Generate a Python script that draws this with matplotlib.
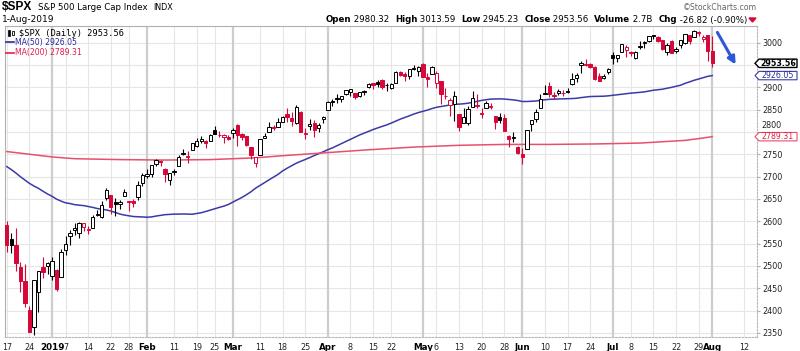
import numpy as np
import pandas as pd
import matplotlib
matplotlib.use("Agg")
import matplotlib.pyplot as plt
from matplotlib.patches import Polygon, Rectangle, FancyArrowPatch
from matplotlib.lines import Line2D
from matplotlib.transforms import blended_transform_factory

W, H = 800, 351

# ---------------- data ----------------
holidays = ['2018-12-25', '2019-01-01', '2019-01-21', '2019-02-18',
            '2019-04-19', '2019-05-27', '2019-07-04']

opens = [
    # Dec 2018
    2590.75, 2559.90, 2547.05, 2496.77, 2465.38, 2400.56, 2363.12, 2442.50, 2498.77, 2498.94,
    # Jan
    2476.96, 2491.92, 2474.33, 2535.61, 2568.11, 2580.00, 2573.51, 2588.11, 2580.31, 2585.10, 2614.75,
    2609.28, 2651.27, 2657.88, 2643.48, 2638.84, 2657.44, 2644.97, 2644.89, 2653.62, 2685.49,
    # Feb
    2702.32, 2706.49, 2728.34, 2735.05, 2717.53, 2692.36, 2712.40, 2722.61, 2750.30, 2743.50,
    2760.24, 2769.28, 2779.05, 2780.24, 2780.67, 2804.35, 2792.36, 2787.50, 2788.11,
    # Mar
    2798.22, 2814.37, 2794.41, 2790.27, 2766.53, 2730.79, 2747.61, 2787.34, 2799.78, 2810.38, 2810.79,
    2822.61, 2840.76, 2831.34, 2819.72, 2844.52, 2796.01, 2812.66, 2819.72, 2809.40, 2828.27,
    # Apr
    2848.63, 2868.24, 2876.09, 2873.99, 2884.16, 2888.46, 2886.58, 2881.37, 2891.92, 2900.86, 2908.32,
    2912.26, 2916.04, 2904.81, 2898.78, 2909.99, 2934.00, 2928.99, 2925.81, 2940.58, 2937.14,
    # May
    2952.33, 2922.16, 2929.21, 2908.89, 2913.03, 2879.61, 2859.84, 2863.10, 2840.19, 2820.12, 2820.38,
    2855.80, 2858.60, 2841.94, 2854.02, 2856.06, 2836.70, 2832.41, 2830.03, 2790.25, 2786.94, 2766.15,
    # Jun
    2751.53, 2762.64, 2818.09, 2828.51, 2852.87, 2885.83, 2903.27, 2882.73, 2886.24, 2886.82,
    2889.75, 2906.71, 2920.55, 2949.60, 2952.71, 2951.42, 2945.78, 2926.07, 2919.66, 2932.94,
    # Jul
    2971.41, 2964.66, 2978.08, 2984.25, 2979.77, 2965.52, 2989.30, 2999.62, 3003.36, 3017.80, 3012.13,
    3005.10, 2978.87, 3004.26, 2981.93, 2994.74, 2998.77, 3016.26, 3013.25, 3024.47, 3007.66, 3016.22,
    # Aug
    2980.32,
]
highs = [
    2601.13, 2573.99, 2585.29, 2509.63, 2504.41, 2410.34, 2467.76, 2489.10, 2520.27, 2509.24,
    2519.49, 2493.14, 2538.07, 2566.16, 2579.82, 2595.32, 2597.82, 2596.27, 2589.32, 2613.08, 2625.76,
    2645.06, 2675.47, 2657.88, 2653.19, 2647.20, 2672.38, 2644.97, 2650.93, 2690.44, 2708.95,
    2716.66, 2724.99, 2738.98, 2738.08, 2719.32, 2708.07, 2718.05, 2748.19, 2761.85, 2757.90,
    2775.66, 2787.33, 2789.88, 2781.58, 2794.20, 2813.49, 2803.12, 2795.76, 2793.73,
    2808.02, 2816.88, 2796.44, 2790.27, 2767.25, 2744.13, 2784.00, 2798.32, 2821.24, 2815.00, 2830.73,
    2835.41, 2852.42, 2843.54, 2860.31, 2846.16, 2809.79, 2829.87, 2825.56, 2819.71, 2836.03,
    2869.40, 2872.90, 2885.25, 2881.28, 2893.24, 2895.95, 2886.88, 2889.71, 2893.42, 2910.54, 2909.60,
    2916.06, 2918.00, 2908.40, 2909.51, 2936.31, 2936.83, 2933.10, 2939.88, 2949.52, 2948.22,
    2954.13, 2931.68, 2947.85, 2937.32, 2913.03, 2897.96, 2875.97, 2891.31, 2840.19, 2852.54, 2858.68,
    2892.15, 2885.48, 2853.86, 2868.88, 2865.47, 2836.70, 2841.36, 2840.51, 2792.03, 2799.00, 2768.98,
    2763.07, 2804.49, 2827.28, 2852.10, 2884.97, 2904.77, 2910.61, 2888.57, 2895.24, 2894.45,
    2897.27, 2930.79, 2931.74, 2958.06, 2964.15, 2954.92, 2946.52, 2932.59, 2929.30, 2943.98,
    2977.93, 2973.21, 2995.84, 2994.03, 2980.76, 2981.90, 3002.98, 3002.33, 3013.92, 3017.80, 3015.02,
    3005.26, 2998.28, 3006.02, 2990.71, 3005.90, 3019.59, 3016.31, 3027.98, 3025.61, 3017.19, 3017.40,
    3013.59,
]
lows = [
    2530.54, 2528.71, 2488.96, 2441.53, 2408.55, 2351.10, 2346.58, 2397.94, 2472.89, 2482.82,
    2467.47, 2443.96, 2474.33, 2524.56, 2547.56, 2568.89, 2562.02, 2577.40, 2570.41, 2585.10, 2612.68,
    2606.36, 2647.58, 2617.27, 2612.86, 2627.01, 2657.33, 2624.06, 2631.05, 2648.34, 2678.65,
    2696.88, 2698.75, 2724.03, 2724.15, 2687.26, 2681.83, 2703.79, 2722.61, 2748.63, 2731.23,
    2760.24, 2767.29, 2774.06, 2764.55, 2779.11, 2794.99, 2789.47, 2775.13, 2782.51,
    2787.38, 2767.66, 2782.97, 2768.69, 2739.09, 2722.27, 2747.61, 2786.73, 2799.78, 2803.46, 2810.79,
    2821.99, 2823.27, 2812.43, 2817.38, 2800.47, 2785.02, 2803.99, 2787.72, 2798.77, 2819.23,
    2848.63, 2858.75, 2865.17, 2867.14, 2882.99, 2880.78, 2873.33, 2879.13, 2881.99, 2898.37, 2896.48,
    2900.71, 2895.45, 2891.90, 2896.35, 2908.53, 2926.05, 2912.84, 2917.56, 2939.35, 2924.11,
    2923.36, 2900.50, 2929.21, 2898.21, 2862.60, 2873.28, 2836.40, 2825.39, 2801.43, 2820.12, 2815.08,
    2855.80, 2854.23, 2831.29, 2854.02, 2851.11, 2805.49, 2820.19, 2801.58, 2766.06, 2776.74, 2750.52,
    2728.81, 2762.64, 2800.92, 2822.45, 2852.87, 2885.51, 2878.53, 2874.68, 2881.99, 2879.62,
    2887.30, 2905.44, 2911.43, 2931.50, 2946.87, 2944.05, 2916.01, 2912.99, 2918.57, 2929.05,
    2952.22, 2955.92, 2977.96, 2967.97, 2970.09, 2963.44, 2984.62, 2988.80, 3001.87, 3008.77, 3001.15,
    2984.25, 2973.09, 2975.86, 2976.65, 2988.56, 2996.82, 2997.24, 3012.59, 3014.30, 3000.94, 2958.08,
    2945.23,
]
closes = [
    2545.94, 2546.16, 2506.96, 2467.42, 2416.62, 2351.10, 2467.70, 2488.83, 2485.74, 2506.85,
    2510.03, 2447.89, 2531.94, 2549.69, 2574.41, 2584.96, 2596.64, 2596.26, 2582.61, 2610.30, 2616.10,
    2635.96, 2670.71, 2632.90, 2638.70, 2642.33, 2664.76, 2643.85, 2640.00, 2681.05, 2704.10,
    2706.53, 2724.87, 2737.70, 2731.61, 2706.05, 2707.88, 2709.80, 2744.73, 2753.03, 2745.73,
    2775.60, 2779.76, 2784.70, 2774.88, 2792.67, 2796.11, 2793.90, 2792.38, 2784.49,
    2803.69, 2792.81, 2789.65, 2771.45, 2748.93, 2743.07, 2783.30, 2791.52, 2810.92, 2808.48, 2822.48,
    2832.94, 2832.57, 2824.23, 2854.88, 2800.71, 2798.36, 2818.46, 2805.37, 2815.44, 2834.40,
    2867.19, 2867.24, 2873.40, 2879.39, 2892.74, 2895.77, 2878.20, 2888.21, 2888.32, 2907.41, 2905.58,
    2907.06, 2900.45, 2905.03, 2907.97, 2933.68, 2927.25, 2926.17, 2939.88, 2943.03, 2945.83,
    2923.73, 2917.52, 2945.64, 2932.47, 2884.05, 2879.42, 2870.72, 2881.40, 2811.87, 2834.41, 2850.96,
    2876.32, 2859.53, 2840.23, 2864.36, 2856.27, 2822.24, 2826.06, 2802.39, 2783.02, 2788.86, 2752.06,
    2744.45, 2803.27, 2826.15, 2843.49, 2873.34, 2886.73, 2885.72, 2879.84, 2891.64, 2886.98,
    2889.67, 2917.75, 2926.46, 2954.18, 2950.46, 2945.35, 2917.38, 2913.78, 2924.92, 2941.76,
    2964.33, 2973.01, 2995.82, 2990.41, 2975.95, 2979.63, 2993.07, 2999.91, 3013.77, 3014.30, 3004.04,
    2984.42, 2995.11, 2976.61, 2985.03, 3005.47, 3019.56, 3003.67, 3025.86, 3020.97, 3013.18, 2980.38,
    2953.56,
]

# closes before the visible window (needed for the 50-day average and first candle colour)
prior_closes = [
    2885.57, 2884.43, 2880.34, 2785.68, 2728.37, 2767.13, 2750.79, 2809.92, 2809.21, 2768.78,
    2767.78, 2755.88, 2740.69, 2656.10, 2705.57, 2658.69, 2641.25, 2682.63, 2711.74,
    2740.37, 2723.06, 2738.31, 2755.45, 2813.89, 2806.83, 2781.01, 2726.22, 2722.18, 2701.58,
    2730.20, 2736.27, 2690.73, 2641.89, 2649.93, 2632.56, 2673.45, 2682.17, 2743.79, 2737.80, 2760.17,
    2790.37, 2700.06, 2695.95, 2633.08, 2637.72, 2636.78, 2651.07, 2650.54, 2599.95,
]

# 200-day moving average
ma200_dates = ['2018-12-17', '2018-12-24', '2019-01-02', '2019-01-09', '2019-01-24', '2019-02-07',
               '2019-02-22', '2019-03-08', '2019-03-15', '2019-03-29', '2019-04-12', '2019-04-29',
               '2019-05-13', '2019-05-28', '2019-06-11', '2019-06-25', '2019-07-10', '2019-07-17',
               '2019-07-24', '2019-07-29', '2019-08-01']
ma200_vals = [2756, 2750, 2744, 2740, 2738, 2737, 2738, 2742, 2746, 2753, 2760, 2766,
              2770, 2772, 2772, 2773, 2775, 2778, 2781, 2785, 2789.31]

tick_dates = ['2018-12-17', '2018-12-24', '2019-01-02', '2019-01-07', '2019-01-14', '2019-01-22',
              '2019-01-28', '2019-02-01', '2019-02-11', '2019-02-19', '2019-02-25', '2019-03-01',
              '2019-03-11', '2019-03-18', '2019-03-25', '2019-04-01', '2019-04-08', '2019-04-15',
              '2019-04-22', '2019-05-01', '2019-05-06', '2019-05-13', '2019-05-20', '2019-05-28',
              '2019-06-03', '2019-06-10', '2019-06-17', '2019-06-24', '2019-07-01', '2019-07-08',
              '2019-07-15', '2019-07-22', '2019-07-29', '2019-08-01', '2019-08-12']
tick_labels = ['17', '24', '2019', '7', '14', '22', '28', 'Feb', '11', '19', '25', 'Mar',
               '11', '18', '25', 'Apr', '8', '15', '22', 'May', '6', '13', '20', '28',
               'Jun', '10', '17', '24', 'Jul', '8', '15', '22', '29', 'Aug', '12']

y_ticks = list(range(2350, 3001, 50))
hidden_y_labels = [2950]      # fully covered by the close tag in the chart
raised_y_labels = [2800]      # partly covered by the MA(200) tag

last_vals = [2953.56, 2926.05, 2789.31]   # close, MA50, MA200 tags

# ---------------- derived ----------------
cal = pd.bdate_range('2018-12-17', '2019-08-30', freq='C', holidays=holidays)
dates = pd.bdate_range('2018-12-17', '2019-08-01', freq='C', holidays=holidays)
n = len(dates)
xi = np.arange(n)
O = np.array(opens); Hh = np.array(highs); L = np.array(lows); C = np.array(closes)
prevC = np.concatenate([[prior_closes[-1]], C[:-1]])
ma50 = pd.Series(prior_closes + closes).rolling(50).mean().values[len(prior_closes):]
ma200_x = cal.get_indexer(pd.to_datetime(ma200_dates))
tick_x = cal.get_indexer(pd.to_datetime(tick_dates))

RED = '#d8073a'
BLUE_MA = '#3a3aa8'
RED_MA = '#e8506a'

fig = plt.figure(figsize=(W / 100, H / 100), dpi=100)
fig.patch.set_facecolor('white')

def fx(px):
    return px / W

def fy(py):
    return 1 - py / H

ax_l, ax_r, ax_t, ax_b = 5, 757, 26, 337
YMIN, YMAX = 2341, 3037
ax = fig.add_axes([fx(ax_l), fy(ax_b), (ax_r - ax_l) / W, (ax_b - ax_t) / H])
ax.set_xlim(-0.4, 165.9)
ax.set_ylim(YMIN, YMAX)

# grid
for y in y_ticks:
    ax.axhline(y, color='#e6e6e6', lw=0.8, zorder=0)
for x, lab in zip(tick_x, tick_labels):
    is_month = not lab.isdigit() or lab == '2019'
    ax.axvline(x, color='#cdcdcd' if is_month else '#e6e6e6',
               lw=1.6 if is_month else 0.8, zorder=0)

# moving averages
ax.plot(xi, ma50, color=BLUE_MA, lw=1.1, zorder=2)
ax.plot(ma200_x, ma200_vals, color=RED_MA, lw=1.1, zorder=2)

# candles
col = np.where(C < prevC, RED, 'black')
hollow = C > O
ax.vlines(xi, L, Hh, colors=col, lw=0.8, zorder=3)
bottoms = np.minimum(O, C)
heights = np.maximum(np.abs(C - O), 1.2)
face = np.where(hollow, 'white', col)
ax.bar(xi, heights, bottom=bottoms, width=0.74, color=face, edgecolor=col,
       linewidth=0.7, zorder=4)

# axes styling
for s in ['left', 'top']:
    ax.spines[s].set_color('#b0b0b0')
    ax.spines[s].set_linewidth(0.8)
for s in ['bottom', 'right']:
    ax.spines[s].set_color('#b8b8b8')
    ax.spines[s].set_linewidth(0.8)
    ax.spines[s].set_linestyle((0, (1.5, 1.5)))

ax.yaxis.tick_right()
ax.set_yticks(y_ticks)
ax.set_yticklabels(['' if (v in hidden_y_labels or v in raised_y_labels) else str(v)
                    for v in y_ticks])
ax.tick_params(axis='y', length=2, color='#b0b0b0', pad=2, labelsize=5.8,
               labelcolor='#222222')
ax.set_xticks(tick_x)
ax.set_xticklabels(tick_labels)
ax.tick_params(axis='x', length=0, pad=4, labelsize=5.8, labelcolor='#222222')
for t, lab in zip(ax.get_xticklabels(), tick_labels):
    if not lab.isdigit() or lab == '2019':
        t.set_fontweight('bold')
        t.set_fontsize(6.3)
        t.set_color('black')
for t in ax.get_yticklabels() + ax.get_xticklabels():
    t.set_family('DejaVu Sans')

tr = blended_transform_factory(ax.transAxes, ax.transData)
pxw = 1.0 / (ax_r - ax_l)
dpy = (YMAX - YMIN) / (ax_b - ax_t)

for v in raised_y_labels:
    ax.text(1 + 4 * pxw, v + 6.5 * dpy, str(v), transform=tr, ha='left', va='center',
            fontsize=5.8, color='#222222', family='DejaVu Sans', clip_on=False)

# price tags on the right
tag_styles = [('black', 'bold', 'black'), (BLUE_MA, 'normal', '#2b2b9c'), (RED_MA, 'normal', '#e0204a')]
for v, (ec, fw, tc) in zip(last_vals, tag_styles):
    tip = 1 - 2 * pxw
    x1 = 1 + 2 * pxw
    x2 = 1 + 40 * pxw
    hh = 4.2 * dpy
    poly = Polygon([(tip, v), (x1, v + hh), (x2, v + hh), (x2, v - hh), (x1, v - hh)],
                   closed=True, transform=tr, clip_on=False, facecolor='white',
                   edgecolor=ec, lw=1.0 if fw == 'bold' else 0.8, zorder=10)
    ax.add_patch(poly)
    ax.text((x1 + x2) / 2, v, f'{v:.2f}', transform=tr, ha='center', va='center',
            fontsize=5.7, fontweight=fw, color=tc, family='DejaVu Sans',
            clip_on=False, zorder=11)

# in-chart legend
fig.add_artist(Rectangle((fx(8), fy(36)), 2 / W, 6 / H, transform=fig.transFigure,
                         facecolor='black', edgecolor='black', lw=0.5))
fig.add_artist(Rectangle((fx(12), fy(35)), 2 / W, 4 / H, transform=fig.transFigure,
                         facecolor='white', edgecolor='black', lw=0.6))
fig.text(fx(19), fy(33), r'\$SPX (Daily) 2953.56', family='DejaVu Sans Mono',
         fontsize=6.2, va='center', ha='left', color='black')
fig.add_artist(Line2D([fx(6), fx(14)], [fy(42), fy(42)], transform=fig.transFigure,
                      color='#2b2b9c', lw=1.2))
fig.text(fx(15), fy(42), 'MA(50) 2926.05', family='DejaVu Sans', fontsize=5.6,
         va='center', ha='left', color='#2b2b9c')
fig.add_artist(Line2D([fx(6), fx(14)], [fy(52.5), fy(52.5)], transform=fig.transFigure,
                      color='#e0204a', lw=1.2))
fig.text(fx(15), fy(52.5), 'MA(200) 2789.31', family='DejaVu Sans', fontsize=5.6,
         va='center', ha='left', color='#e0204a')

# header
fig.text(fx(2), fy(7.5), r'\$SPX', family='Liberation Sans', fontweight='bold',
         fontsize=8.6, va='center', ha='left')
fig.text(fx(38), fy(7.5), 'S&P 500 Large Cap Index', family='DejaVu Sans',
         fontsize=6.2, va='center', ha='left')
fig.text(fx(153), fy(7.5), 'INDX', family='DejaVu Sans', fontsize=5.8,
         va='center', ha='left')
fig.text(fx(2), fy(20), '1-Aug-2019', family='DejaVu Sans', fontsize=6.5,
         va='center', ha='left')
fig.text(fx(757), fy(7.5), '\u00a9StockCharts.com', family='DejaVu Sans', fontsize=5.6,
         va='center', ha='right', color='#666666')

segments = [('Open', True), (' 2980.32  ', False), ('High', True), (' 3013.59  ', False),
            ('Low', True), (' 2945.23  ', False), ('Close', True), (' 2953.56  ', False),
            ('Volume', True), (' 2.7B  ', False), ('Chg', True), (' -26.82 (-0.90%)', False)]
renderer = fig.canvas.get_renderer()

def place_line(size, draw):
    x = 747.0
    arts = []
    for s, b in reversed(segments):
        t = fig.text(fx(x), fy(20), s, family='DejaVu Sans',
                     fontsize=size, fontweight='bold' if b else 'normal',
                     va='center', ha='right')
        bb = t.get_window_extent(renderer)
        x = bb.x0
        arts.append(t)
    if not draw:
        for t in arts:
            t.remove()
    return x

start = place_line(6.5, False)
size = 6.5 * (747 - 325) / (747 - start)
place_line(size, True)

fig.add_artist(Polygon([(fx(749), fy(18)), (fx(756), fy(18)), (fx(752.5), fy(22))],
                       closed=True, transform=fig.transFigure, facecolor=RED, edgecolor=RED))

# annotation arrow
fig.add_artist(FancyArrowPatch((fx(716), fy(30)), (fx(737), fy(67)),
                               transform=fig.transFigure, arrowstyle='-|>',
                               mutation_scale=11, lw=2.2, color='#2d58d8'))

fig.savefig('out.png', dpi=100, facecolor='white')
